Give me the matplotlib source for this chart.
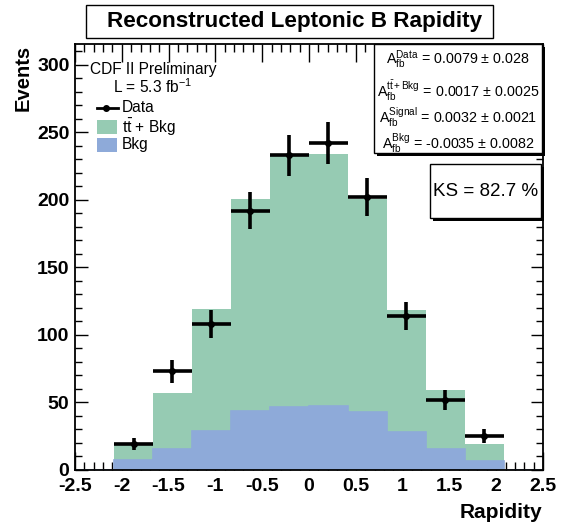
import numpy as np
import matplotlib
matplotlib.use("Agg")
import matplotlib.pyplot as plt
from matplotlib.patches import Rectangle
from matplotlib.lines import Line2D

plt.rcParams['font.family'] = ['Liberation Sans', 'DejaVu Sans']
plt.rcParams['mathtext.fontset'] = 'custom'
plt.rcParams['mathtext.rm'] = 'Liberation Sans'
plt.rcParams['mathtext.it'] = 'Liberation Sans:italic'
plt.rcParams['mathtext.bf'] = 'Liberation Sans:bold'

# ---- data ----
bin_edges = np.linspace(-2.5, 2.5, 13)
data_counts = [0, 19, 73, 108, 192, 233, 242, 202, 114, 52, 25, 0]
ttbar_plus_bkg = [0, 19, 57, 119, 201, 234, 234, 201, 118.5, 59, 19, 0]
bkg_counts = [0, 7.4, 15.3, 28.6, 43.4, 46.4, 47.4, 42.7, 28.1, 15.5, 6.7, 0]
x_ticks = [-2.5, -2, -1.5, -1, -0.5, 0, 0.5, 1, 1.5, 2, 2.5]
x_ticklabels = ['-2.5', '-2', '-1.5', '-1', '-0.5', '0', '0.5', '1', '1.5', '2', '2.5']
y_ticks = [0, 50, 100, 150, 200, 250, 300]
afb_lines = [
    r'$\mathrm{A}_{\mathrm{fb}}^{\mathrm{Data}}$ = 0.0079 ± 0.028',
    r'$\mathrm{A}_{\mathrm{fb}}^{\mathrm{t\bar{t}+Bkg}}$ = 0.0017 ± 0.0025',
    r'$\mathrm{A}_{\mathrm{fb}}^{\mathrm{Signal}}$ = 0.0032 ± 0.0021',
    r'$\mathrm{A}_{\mathrm{fb}}^{\mathrm{Bkg}}$ = -0.0035 ± 0.0082',
]
ks_text = 'KS = 82.7 %'

W, H = 569, 526
fig = plt.figure(figsize=(W / 100, H / 100), dpi=100)

def fx(x):
    return x / W

def fy(y):
    return 1 - y / H

ax = fig.add_axes([fx(75), fy(470), fx(543) - fx(75), fy(44) - fy(470)])
ax.set_axisbelow(True)

green = '#96cbb3'
blue = '#8eaad9'
edges = np.asarray(bin_edges)
ax.stairs(ttbar_plus_bkg, edges, fill=True, color=green, zorder=1)
ax.stairs(bkg_counts, edges, fill=True, color=blue, zorder=2)
ax.stairs(bkg_counts, edges, fill=False, color=blue, lw=1.2, zorder=2)

centers = 0.5 * (edges[:-1] + edges[1:])
half_w = 0.5 * (edges[1:] - edges[:-1])
d = np.asarray(data_counts, dtype=float)
m = d > 0
ax.errorbar(centers[m], d[m], yerr=np.sqrt(d[m]), xerr=half_w[m], fmt='o',
            color='black', ms=4, elinewidth=2.6, capsize=0, zorder=5)

ax.set_xlim(-2.5, 2.5)
ax.set_ylim(0, 315.5)
ax.set_xticks(x_ticks)
ax.set_xticklabels(x_ticklabels)
ax.set_yticks(y_ticks)
ax.set_xticks(np.arange(-2.5, 2.51, 0.1), minor=True)
ax.set_yticks(np.arange(0, 315, 10), minor=True)
ax.tick_params(which='both', direction='in', top=True, right=True, colors='black')
ax.tick_params(which='major', axis='x', length=13, width=1)
ax.tick_params(which='minor', axis='x', length=6, width=1)
ax.tick_params(which='major', axis='y', length=9, width=1)
ax.tick_params(which='minor', axis='y', length=5, width=1)
ax.tick_params(axis='y', which='major', labelsize=14, pad=4)
ax.tick_params(axis='x', which='major', labelsize=14, pad=6)
for lab in ax.get_xticklabels() + ax.get_yticklabels():
    lab.set_fontweight('bold')
for s in ax.spines.values():
    s.set_linewidth(1.3)
    s.set_zorder(6)

fig.text(fx(542), fy(512), 'Rapidity', ha='right', va='center', fontsize=15, fontweight='bold')
fig.text(fx(23), fy(78), 'Events', ha='center', va='center', rotation=90, fontsize=14.5, fontweight='bold')

# title box
fig.add_artist(Rectangle((fx(86), fy(38)), fx(493) - fx(86), fy(5) - fy(38),
                         transform=fig.transFigure, fill=False, ec='black', lw=1))
fig.text(fx(295), fy(22), 'Reconstructed Leptonic B Rapidity', ha='center', va='center',
         fontsize=16.2, fontweight='bold')

# legend (manual)
fs_leg = 11.2
fig.text(fx(90), fy(69), 'CDF II Preliminary', ha='left', va='center', fontsize=fs_leg)
fig.text(fx(113), fy(87), r'L = 5.3 fb$^{\mathrm{-1}}$', ha='left', va='center', fontsize=fs_leg)
fig.add_artist(Line2D([fx(97), fx(118)], [fy(108), fy(108)], transform=fig.transFigure,
                      color='black', lw=2))
fig.add_artist(Line2D([fx(106)], [fy(108)], transform=fig.transFigure, color='black',
                      marker='o', ms=4, lw=0))
fig.text(fx(122), fy(108), 'Data', ha='left', va='center', fontsize=fs_leg)
fig.add_artist(Rectangle((fx(97), fy(134)), fx(117) - fx(97), fy(120) - fy(134),
                         transform=fig.transFigure, color=green, lw=0))
fig.text(fx(122), fy(127), r'$\mathrm{t\bar{t}}$ + Bkg', ha='left', va='center', fontsize=fs_leg)
fig.add_artist(Rectangle((fx(97), fy(152)), fx(117) - fx(97), fy(138) - fy(152),
                         transform=fig.transFigure, color=blue, lw=0))
fig.text(fx(122), fy(145), 'Bkg', ha='left', va='center', fontsize=fs_leg)

def shadow_box(x0, y0, x1, y1):
    fig.add_artist(Rectangle((fx(x0 + 3), fy(y1 + 3)), fx(x1) - fx(x0), fy(y0) - fy(y1),
                             transform=fig.transFigure, fc='black', ec='black', lw=0, zorder=7))
    fig.add_artist(Rectangle((fx(x0), fy(y1)), fx(x1) - fx(x0), fy(y0) - fy(y1),
                             transform=fig.transFigure, fc='white', ec='black', lw=1, zorder=8))

shadow_box(374, 44, 542, 153)
ys = [60, 91, 117, 143]
for txt, yy in zip(afb_lines, ys):
    fig.text(fx(458), fy(yy), txt, ha='center', va='center', fontsize=10.3, zorder=9)

shadow_box(430, 164, 541, 218)
fig.text(fx(485.5), fy(192), ks_text, ha='center', va='center', fontsize=13.5, zorder=9)

fig.savefig('out.png', dpi=100)
